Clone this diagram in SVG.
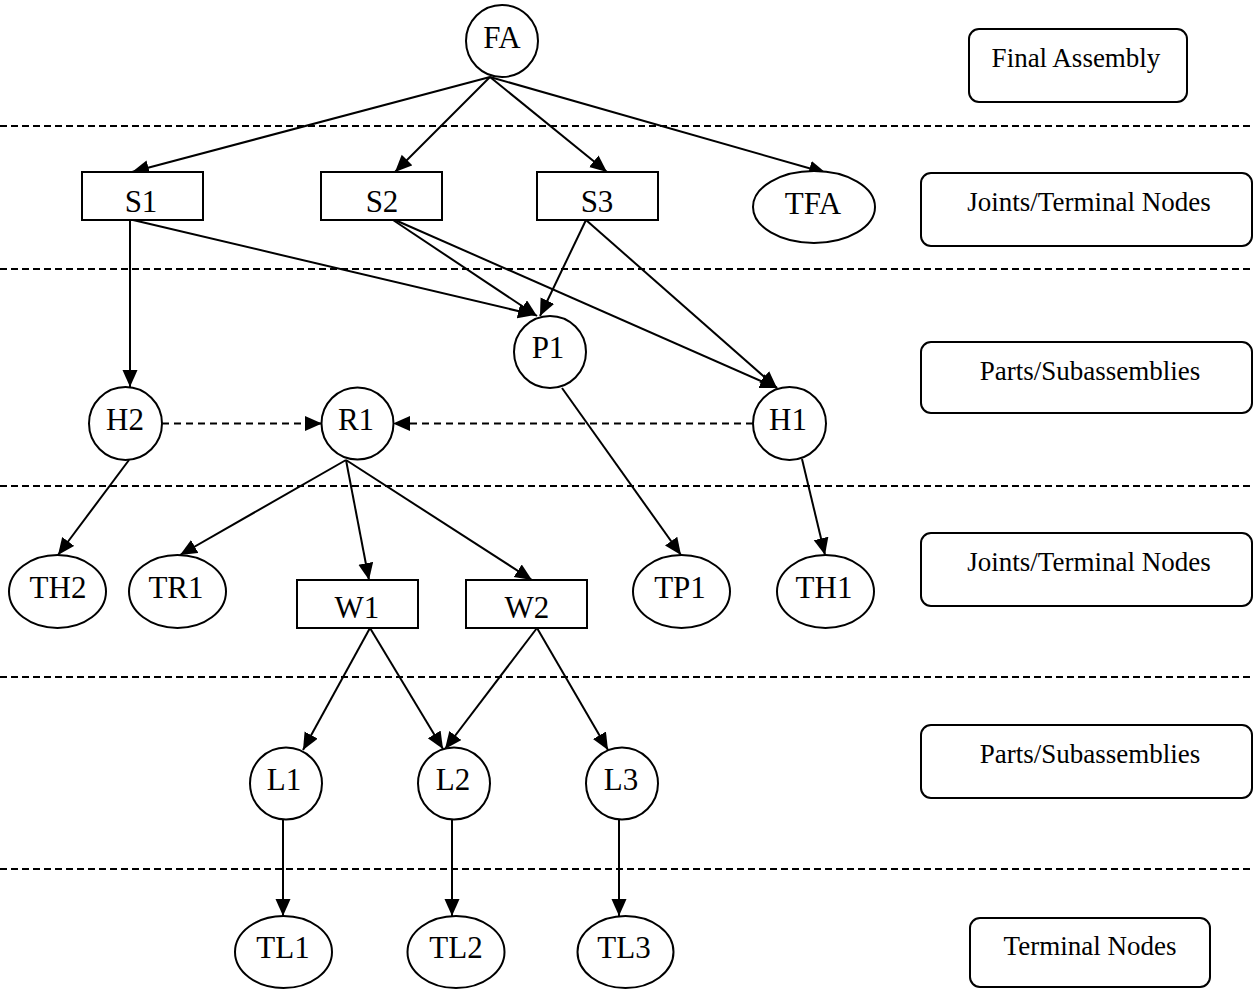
<svg xmlns="http://www.w3.org/2000/svg" width="1253" height="989" viewBox="0 0 1253 989">
<style>
.bg{fill:#fff}
.sep{stroke:#000;stroke-width:1.8;stroke-dasharray:7,4;fill:none}
.nd{fill:#fff;stroke:#000;stroke-width:2}
.lb{fill:#fff;stroke:#000;stroke-width:2}
.t{font-family:"Liberation Serif","Times New Roman",serif;font-size:31px;fill:#000;text-anchor:middle}
.lt{font-family:"Liberation Serif","Times New Roman",serif;font-size:27px;fill:#000;text-anchor:middle}
.e{stroke:#000;stroke-width:2;fill:none;marker-end:url(#ah)}
.ed{stroke:#000;stroke-width:2;fill:none;stroke-dasharray:7,5;marker-end:url(#ah)}
</style>
<defs>
<marker id="ah" markerUnits="userSpaceOnUse" markerWidth="18" markerHeight="16" refX="17" refY="7.5" orient="auto">
<path d="M0,0 L17,7.5 L0,15 z" fill="#000"/>
</marker>
</defs>
<rect class="bg" x="0" y="0" width="1253" height="989"/>
<g id="separators">
<line class="sep" x1="0" y1="126" x2="1253" y2="126"/>
<line class="sep" x1="0" y1="269" x2="1253" y2="269"/>
<line class="sep" x1="0" y1="486" x2="1253" y2="486"/>
<line class="sep" x1="0" y1="677" x2="1253" y2="677"/>
<line class="sep" x1="0" y1="869" x2="1253" y2="869"/>
</g>
<g id="connectors">
<line class="e" x1="490" y1="77" x2="132" y2="172"/>
<line class="e" x1="490" y1="77" x2="395" y2="172"/>
<line class="e" x1="490" y1="77" x2="607" y2="172"/>
<line class="e" x1="490" y1="77" x2="826" y2="173"/>
<line class="e" x1="130" y1="220" x2="130" y2="387"/>
<line class="e" x1="133" y1="220" x2="535" y2="315"/>
<line class="e" x1="393" y1="220" x2="537" y2="316"/>
<line class="e" x1="395" y1="220" x2="777" y2="388"/>
<line class="e" x1="586" y1="220" x2="540" y2="316"/>
<line class="e" x1="586" y1="220" x2="777" y2="388"/>
<line class="ed" x1="162" y1="423.5" x2="322" y2="423.5"/>
<line class="ed" x1="753" y1="423.5" x2="393" y2="423.5"/>
<line class="e" x1="562" y1="388" x2="681" y2="555"/>
<line class="e" x1="802" y1="459" x2="825" y2="555"/>
<line class="e" x1="129" y1="460" x2="58" y2="555"/>
<line class="e" x1="346" y1="460" x2="180" y2="555"/>
<line class="e" x1="346" y1="460" x2="369" y2="580"/>
<line class="e" x1="346" y1="460" x2="532" y2="580"/>
<line class="e" x1="370" y1="628" x2="303" y2="750"/>
<line class="e" x1="370" y1="628" x2="443" y2="749"/>
<line class="e" x1="537" y1="628" x2="445" y2="749"/>
<line class="e" x1="537" y1="628" x2="608" y2="750"/>
<line class="e" x1="283" y1="820" x2="283" y2="916"/>
<line class="e" x1="452" y1="820" x2="452" y2="916"/>
<line class="e" x1="619" y1="820" x2="619" y2="916"/>
</g>
<g id="FA"><circle class="nd" cx="502" cy="41" r="36"/><text class="t" x="502" y="48">FA</text></g>
<g id="S1"><rect class="nd" x="82" y="172" width="121" height="48"/><text class="t" x="141" y="212">S1</text></g>
<g id="S2"><rect class="nd" x="321" y="172" width="121" height="48"/><text class="t" x="382" y="212">S2</text></g>
<g id="S3"><rect class="nd" x="537" y="172" width="121" height="48"/><text class="t" x="597" y="212">S3</text></g>
<g id="TFA"><ellipse class="nd" cx="814" cy="207" rx="61" ry="36"/><text class="t" x="813" y="214">TFA</text></g>
<g id="P1"><circle class="nd" cx="550" cy="352" r="36"/><text class="t" x="548" y="358">P1</text></g>
<g id="H2"><circle class="nd" cx="125.5" cy="423.5" r="36.5"/><text class="t" x="125" y="430">H2</text></g>
<g id="R1"><circle class="nd" cx="357.5" cy="423.5" r="36"/><text class="t" x="356" y="430">R1</text></g>
<g id="H1"><circle class="nd" cx="789.5" cy="423.5" r="36.5"/><text class="t" x="788" y="430">H1</text></g>
<g id="TH2"><ellipse class="nd" cx="57.5" cy="591.5" rx="48.5" ry="36.5"/><text class="t" x="58" y="598">TH2</text></g>
<g id="TR1"><ellipse class="nd" cx="177.5" cy="591.5" rx="48.5" ry="36.5"/><text class="t" x="176" y="598">TR1</text></g>
<g id="W1"><rect class="nd" x="297" y="580" width="121" height="48"/><text class="t" x="357" y="618">W1</text></g>
<g id="W2"><rect class="nd" x="466" y="580" width="121" height="48"/><text class="t" x="527" y="618">W2</text></g>
<g id="TP1"><ellipse class="nd" cx="681.5" cy="591.5" rx="48.5" ry="36.5"/><text class="t" x="680" y="598">TP1</text></g>
<g id="TH1"><ellipse class="nd" cx="825.5" cy="591.5" rx="48.5" ry="36.5"/><text class="t" x="824" y="598">TH1</text></g>
<g id="L1"><circle class="nd" cx="286" cy="783.5" r="36"/><text class="t" x="284" y="790">L1</text></g>
<g id="L2"><circle class="nd" cx="454" cy="783.5" r="36"/><text class="t" x="453" y="790">L2</text></g>
<g id="L3"><circle class="nd" cx="622" cy="783.5" r="36"/><text class="t" x="621" y="790">L3</text></g>
<g id="TL1"><ellipse class="nd" cx="283.5" cy="952" rx="48.5" ry="36"/><text class="t" x="283" y="958">TL1</text></g>
<g id="TL2"><ellipse class="nd" cx="456" cy="952" rx="48.5" ry="36"/><text class="t" x="456" y="958">TL2</text></g>
<g id="TL3"><ellipse class="nd" cx="625.5" cy="952" rx="48" ry="36"/><text class="t" x="624" y="958">TL3</text></g>
<g id="label-final-assembly"><rect class="lb" x="969" y="29" width="218" height="73" rx="10"/><text class="lt" x="1076" y="67">Final Assembly</text></g>
<g id="label-joints-1"><rect class="lb" x="921" y="173" width="331" height="73" rx="10"/><text class="lt" x="1089" y="211">Joints/Terminal Nodes</text></g>
<g id="label-parts-1"><rect class="lb" x="921" y="342" width="331" height="71" rx="10"/><text class="lt" x="1090" y="380">Parts/Subassemblies</text></g>
<g id="label-joints-2"><rect class="lb" x="921" y="533" width="331" height="73" rx="10"/><text class="lt" x="1089" y="571">Joints/Terminal Nodes</text></g>
<g id="label-parts-2"><rect class="lb" x="921" y="725" width="331" height="73" rx="10"/><text class="lt" x="1090" y="763">Parts/Subassemblies</text></g>
<g id="label-terminal"><rect class="lb" x="970" y="918" width="240" height="69" rx="10"/><text class="lt" x="1090" y="955">Terminal Nodes</text></g>
</svg>
